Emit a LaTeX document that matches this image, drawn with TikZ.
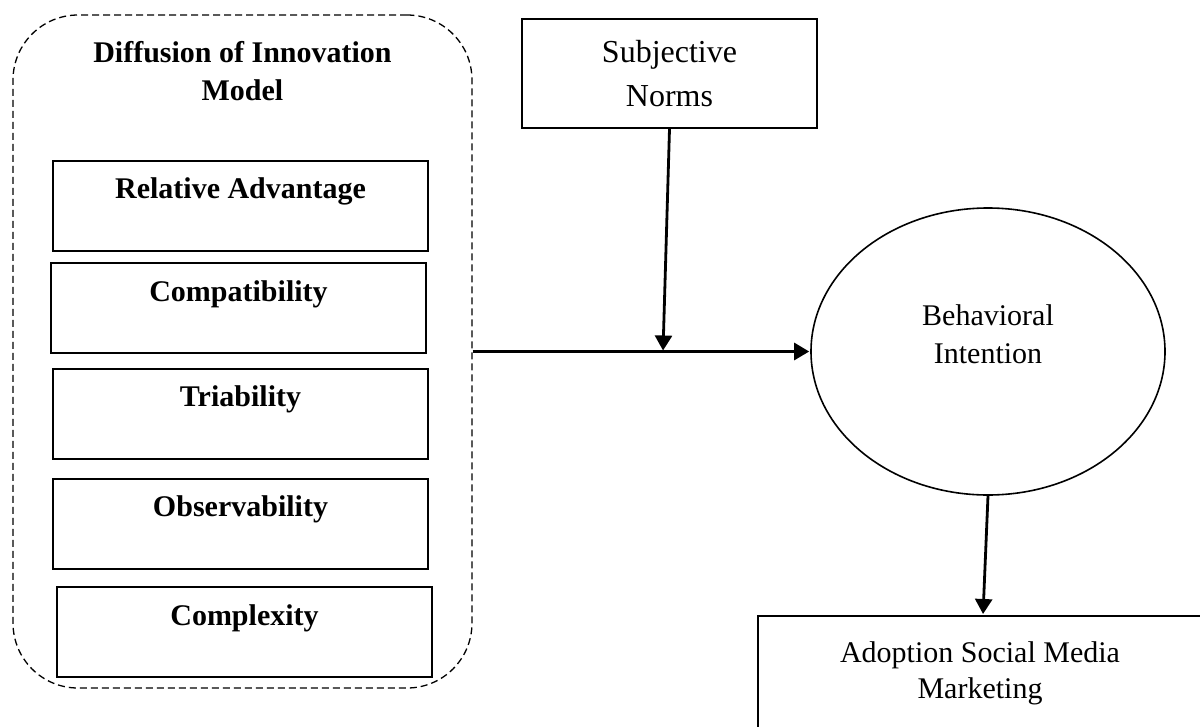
\documentclass[tikz,border=0pt]{standalone}
\usepackage{fontspec}
\setmainfont{Liberation Serif}
\usepackage{tikz}
\usetikzlibrary{arrows.meta,positioning,shapes.geometric}

\begin{document}
\begin{tikzpicture}[
x=1pt, y=-1pt,
font=\fontsize{30}{38}\selectfont,
itemtext/.style={font=\fontsize{30}{38}\selectfont\bfseries, inner sep=0pt},
itembox/.style={draw, line width=2pt, minimum width=375pt, minimum height=90pt,
  label={[itemtext, anchor=base, yshift=-39pt]north:#1}},
plainbox/.style={draw, line width=2pt, align=center, inner sep=0pt},
flow/.style={-{Triangle[length=15pt,width=17pt]}, line width=2.8pt, shorten >=1pt}]
    % Page
    \useasboundingbox (0,0) rectangle (1200,726);
    \clip (0,0) rectangle (1200,726);

    % Diffusion of innovation group
    \node (dim) [draw, dash pattern=on 7pt off 4pt, line width=1.3pt, rounded corners=65pt,
        minimum width=459pt, minimum height=673pt,
        label={[itemtext, align=center, anchor=north, yshift=-27pt]north:Diffusion of Innovation\\Model}]
        at (242.5,351.5) {};

    \node (ra) [itembox=Relative Advantage] at (240.5,205.5) {};
    \node (co) [itembox=Compatibility] at (238.5,308) {};
    \node (tr) [itembox=Triability] at (240.5,413.5) {};
    \node (ob) [itembox=Observability] at (240.5,523.5) {};
    \node (cx) [itembox=Complexity] at (244.5,632) {};

    % Other constructs
    \node (sn) [plainbox, minimum width=295pt, minimum height=109pt,
        font=\fontsize{32}{44}\selectfont] at (669.5,73.5) {Subjective\\Norms};
    \node (bi) [draw, ellipse, line width=1.6pt, minimum width=354pt, minimum height=287pt,
        label={[inner sep=0pt, align=center, anchor=north, yshift=17pt]center:Behavioral\\Intention}]
        at (988,351.5) {};
    \node (asm) [plainbox, minimum width=444pt, minimum height=115pt,
        font=\fontsize{30}{36}\selectfont] at (980,673.5) {Adoption Social Media\\Marketing};

    \coordinate (join) at (663,351.5);

    % Arrows
    \draw[flow] (dim.east) -- (bi.west);
    \draw[flow] (sn.south) -- (join);
    \draw[flow] (bi.south) -- ([xshift=3pt]asm.north);

\end{tikzpicture}
\end{document}
